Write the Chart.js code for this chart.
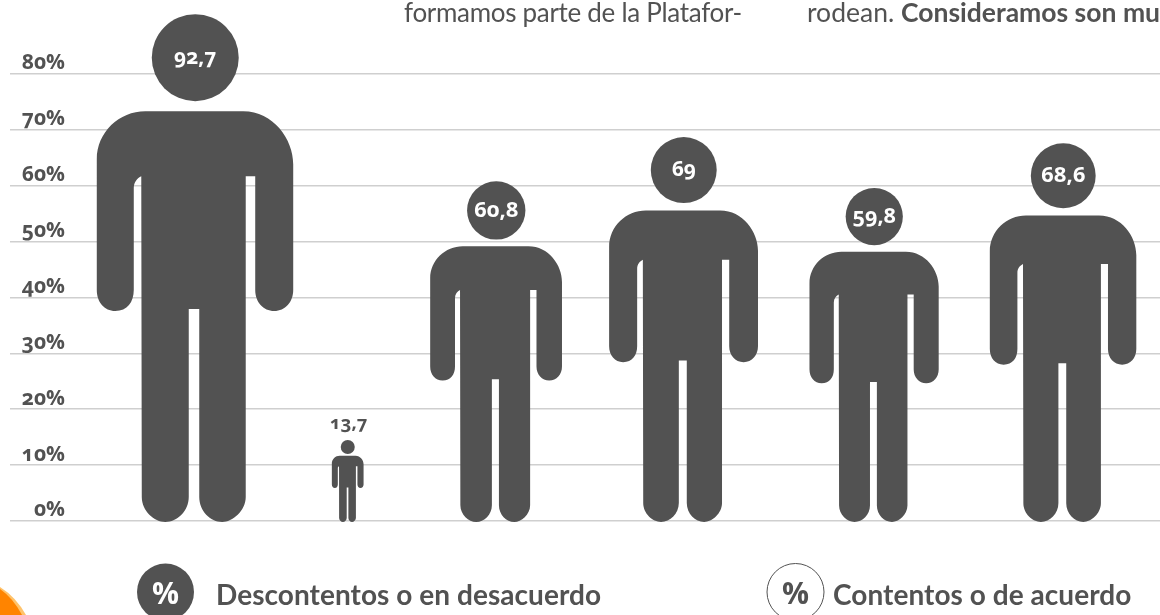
<!DOCTYPE html>
<html>
<head>
<meta charset="utf-8">
<script src="https://cdn.jsdelivr.net/npm/chart.js@4"></script>
<style>
html, body { margin: 0; padding: 0; background: #fff; overflow: hidden; }
#wrap { position: relative; width: 1160px; height: 615px; overflow: hidden; }
#myChart { position: absolute; left: 0; top: 0; font-feature-settings: "onum"; }
.txt { position: absolute; white-space: nowrap; color: #525252; font-family: Lato; line-height: 30px; }
</style>
</head>
<body>
<div id="wrap">
  <canvas id="myChart" width="1160" height="615"></canvas>
  <div class="txt" style="left:404px;top:-3px;font-size:26px;letter-spacing:-.3px">formamos parte de la Platafor-</div>
  <div class="txt" style="left:807px;top:-3px;font-size:26.5px;">rodean. <b>Consideramos son mu</b></div>
  <div class="txt" style="left:216px;top:579px;font-size:28px;font-weight:700;letter-spacing:.05px">Descontentos o en desacuerdo</div>
  <div class="txt" style="left:833px;top:579px;font-size:28px;font-weight:700;letter-spacing:.05px">Contentos o de acuerdo</div>
</div>
<script>
var categories = ['A', 'B', 'C', 'D', 'E', 'F'];
var valueLabels = ['92,7', '13,7', '60,8', '69', '59,8', '68,6'];
// figure heights as they stand against the grid in the picture
var figureHeights = [90.7, 14.5, 60.8, 68.7, 59.6, 67.6];
var tickValues = [0, 10, 20, 30, 40, 50, 60, 70, 80];

// the figures are not evenly spaced, so each slot gets a nudge in px
var slotNudge = [39, 9, -25, -20, -12, -5.5];
var labelSize = [21, 0, 22, 21, 21.5, 22];
var dark = '#525252';

// person outline, measured on a 508 unit tall figure, origin at top centre
function personPath(ctx, cx, top, h) {
    var k = h / 508;
    function X(u) { return cx + u * k; }
    function Y(v) { return top + v * k; }
    ctx.beginPath();
    ctx.arc(X(0), Y(43.5), 43.5 * k, 0, Math.PI * 2);
    ctx.fill();

    ctx.beginPath();
    ctx.moveTo(X(-50), Y(97));
    ctx.lineTo(X(48), Y(97));
    ctx.bezierCurveTo(X(78), Y(97), X(98), Y(125), X(98), Y(150));
    ctx.lineTo(X(98), Y(276));
    ctx.bezierCurveTo(X(98), Y(288), X(90), Y(297), X(79), Y(297));
    ctx.bezierCurveTo(X(68), Y(297), X(60), Y(288), X(60), Y(276));
    ctx.lineTo(X(60), Y(162));
    ctx.lineTo(X(50.5), Y(162));
    ctx.lineTo(X(50.5), Y(483));
    ctx.bezierCurveTo(X(50.5), Y(497), X(37), Y(508), X(27), Y(508));
    ctx.bezierCurveTo(X(15), Y(508), X(4), Y(497), X(4), Y(483));
    ctx.lineTo(X(4), Y(295));
    ctx.lineTo(X(-6.5), Y(295));
    ctx.lineTo(X(-6.5), Y(483));
    ctx.bezierCurveTo(X(-6.5), Y(497), X(-18), Y(508), X(-30), Y(508));
    ctx.bezierCurveTo(X(-41), Y(508), X(-53.5), Y(497), X(-53.5), Y(483));
    ctx.lineTo(X(-54), Y(162));
    ctx.bezierCurveTo(X(-58), Y(164), X(-61.5), Y(168), X(-61.5), Y(174));
    ctx.lineTo(X(-61.5), Y(276));
    ctx.bezierCurveTo(X(-61.5), Y(288), X(-68), Y(297), X(-80), Y(297));
    ctx.bezierCurveTo(X(-91), Y(297), X(-98.5), Y(288), X(-98.5), Y(276));
    ctx.lineTo(X(-98.5), Y(145));
    ctx.bezierCurveTo(X(-98.5), Y(118), X(-76), Y(97), X(-50), Y(97));
    ctx.closePath();
    ctx.fill();
}

var peoplePlugin = {
    id: 'people',
    afterDatasetsDraw: function(chart) {
        var ctx = chart.ctx;
        var bars = chart.getDatasetMeta(0).data;
        var yZero = chart.scales.y.getPixelForValue(0) + 1;
        ctx.save();
        bars.forEach(function(bar, i) {
            var cx = bar.x + slotNudge[i];
            var h = yZero - bar.y;
            ctx.fillStyle = dark;
            personPath(ctx, cx, bar.y, h);
            ctx.textAlign = 'center';
            ctx.textBaseline = 'middle';
            if (labelSize[i]) {
                ctx.fillStyle = '#fff';
                ctx.font = 'bold ' + labelSize[i] + 'px "Open Sans"';
                ctx.fillText(valueLabels[i], cx, bar.y + h * 0.0856);
            } else {
                ctx.fillStyle = dark;
                ctx.font = 'bold 18.5px "Open Sans"';
                ctx.fillText(valueLabels[i], cx + 1, bar.y - 16);
            }
        });

        // legend marks and the corner of the orange page decoration
        ctx.fillStyle = '#ffc36b';
        ctx.beginPath();
        ctx.moveTo(0, 587);
        ctx.quadraticCurveTo(16, 597, 26, 615);
        ctx.lineTo(0, 615);
        ctx.fill();
        ctx.fillStyle = '#ff8400';
        ctx.beginPath();
        ctx.moveTo(0, 589);
        ctx.quadraticCurveTo(13, 598, 22, 615);
        ctx.lineTo(0, 615);
        ctx.fill();

        ctx.fillStyle = dark;
        ctx.beginPath();
        ctx.arc(165.5, 592, 28.5, 0, Math.PI * 2);
        ctx.fill();
        ctx.strokeStyle = dark;
        ctx.lineWidth = 1;
        ctx.beginPath();
        ctx.arc(795.5, 592, 28.5, 0, Math.PI * 2);
        ctx.stroke();
        ctx.font = 'bold 30px "Open Sans"';
        ctx.fillStyle = '#fff';
        ctx.fillText('%', 165.5, 595);
        ctx.fillStyle = dark;
        ctx.fillText('%', 795.5, 595);
        ctx.restore();
    }
};

var ctx = document.getElementById('myChart').getContext('2d');
var chart = new Chart(ctx, {
    type: 'bar',
    data: {
        labels: categories,
        datasets: [{
            label: 'Personas',
            data: figureHeights,
            backgroundColor: 'rgba(0,0,0,0)'
        }]
    },
    plugins: [peoplePlugin],
    options: {
        responsive: false,
        animation: false,
        layout: { padding: { top: 0, right: 0, bottom: 94, left: 0 } },
        plugins: { legend: { display: false }, tooltip: { enabled: false } },
        scales: {
            x: { display: false },
            y: {
                min: 0,
                max: 93.24,
                afterFit: function(axis) { axis.width = 65; },
                afterBuildTicks: function(axis) {
                    axis.ticks = tickValues.map(function(v) { return { value: v }; });
                },
                border: { display: false },
                grid: { color: '#cfcfcf', lineWidth: 1.6, tickLength: 55, tickColor: '#cfcfcf' },
                ticks: {
                    callback: function(v) { return v + '%'; },
                    color: dark,
                    padding: -55,
                    align: 'end',
                    autoSkip: false,
                    maxRotation: 0,
                    font: { family: '"Open Sans"', size: 21, weight: 'bold' }
                }
            }
        }
    }
});
</script>
</body>
</html>
